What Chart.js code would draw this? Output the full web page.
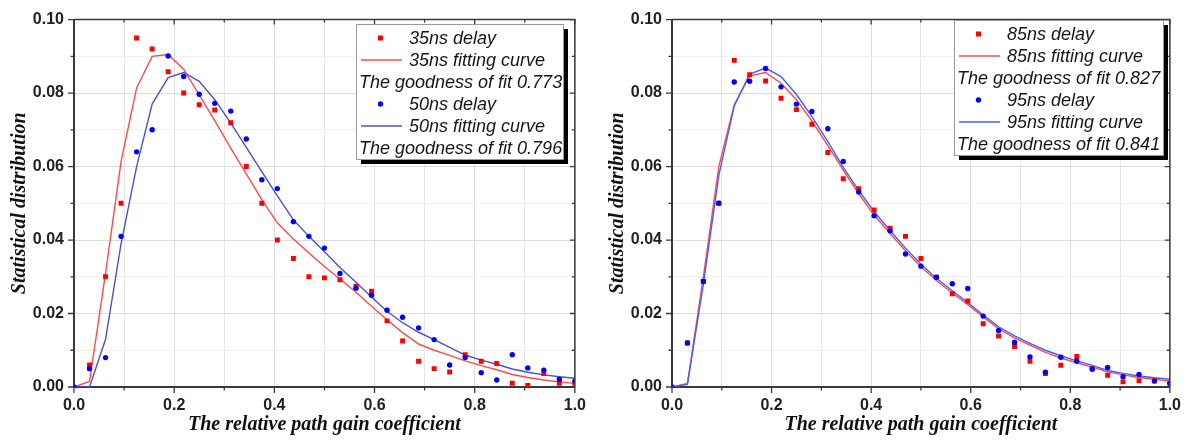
<!DOCTYPE html>
<html>
<head>
<meta charset="utf-8">
<script src="https://cdn.jsdelivr.net/npm/chart.js@4"></script>
<style>
  body { margin: 0; background: #fff; }
  #wrap { display: flex; width: 1190px; height: 441px; }
  canvas { display: block; }
</style>
</head>
<body>
<div id="wrap">
  <canvas id="chart-left" width="595" height="441"></canvas>
  <canvas id="chart-right" width="595" height="441"></canvas>
</div>
<script>
// relative path gain coefficient, sampled in 1/32 steps
const gain = [0, 0.031, 0.063, 0.094, 0.125, 0.156, 0.188, 0.219, 0.25, 0.281, 0.313,
  0.344, 0.375, 0.406, 0.438, 0.469, 0.5, 0.531, 0.563, 0.594, 0.625, 0.656, 0.688,
  0.719, 0.75, 0.781, 0.813, 0.844, 0.875, 0.906, 0.938, 0.969, 1.0];

// measured distributions (null = no sample)
const delay35 = [null, 0.006, 0.030, 0.050, 0.095, 0.092, 0.0858, 0.080, 0.0768, 0.0754, 0.0719,
  0.060, 0.050, 0.040, 0.035, 0.030, 0.0297, 0.0292, 0.0274, 0.0261, 0.018, 0.0125, 0.007,
  0.005, 0.0041, 0.0088, 0.007, 0.0064, 0.001, 0.0004, 0.0037, 0.001, 0.001];
const delay50 = [0, 0.005, 0.008, 0.041, 0.064, 0.070, 0.0901, 0.0845, 0.0797, 0.0772, 0.0751,
  0.0675, 0.0564, 0.054, 0.045, 0.041, 0.0378, 0.0309, 0.0269, 0.025, 0.0209, 0.019, 0.0161,
  0.0129, 0.006, 0.008, 0.0039, 0.0019, 0.0088, 0.0052, 0.0046, 0.0021, 0.0016];
const delay85 = [null, 0.012, 0.0287, 0.050, 0.0889, 0.085, 0.0833, 0.0786, 0.0755, 0.0715, 0.0638,
  0.0567, 0.054, 0.0482, 0.0432, 0.041, 0.035, 0.0299, 0.0254, 0.0234, 0.0172, 0.0139, 0.011,
  0.007, 0.0037, 0.0059, 0.0083, 0.0049, 0.0032, 0.0014, 0.0017, 0.0017, 0.001];
const delay95 = [0, 0.012, 0.0287, 0.050, 0.083, 0.0832, 0.0867, 0.0817, 0.077, 0.075, 0.0703,
  0.0614, 0.0531, 0.0466, 0.0425, 0.0362, 0.0329, 0.0299, 0.0281, 0.0268, 0.0193, 0.0154, 0.0122,
  0.0082, 0.004, 0.0081, 0.007, 0.0049, 0.0053, 0.0028, 0.0034, 0.0016, 0.001];

// fitting curves
const fit35 = [0, 0.0015, 0.031, 0.0614, 0.0814, 0.090, 0.0905, 0.0865, 0.0795, 0.0725, 0.065,
  0.058, 0.051, 0.0447, 0.0403, 0.0365, 0.0328, 0.0294, 0.0258, 0.022, 0.0183, 0.0148, 0.0117,
  0.0100, 0.0086, 0.0071, 0.0058, 0.0047, 0.0034, 0.0026, 0.0019, 0.0014, 0.001];
const fit50 = [0, 0, 0.013, 0.039, 0.060, 0.077, 0.0842, 0.0856, 0.0832, 0.0782, 0.0718,
  0.0652, 0.0586, 0.052, 0.0455, 0.041, 0.0368, 0.0325, 0.0285, 0.0245, 0.0206, 0.0175, 0.0149,
  0.0129, 0.0108, 0.0087, 0.0073, 0.0062, 0.0049, 0.0040, 0.0033, 0.0028, 0.0024];
const fit85 = [0, 0.001, 0.030, 0.060, 0.0768, 0.0847, 0.0856, 0.0827, 0.0782, 0.0724, 0.0657,
  0.059, 0.0526, 0.0468, 0.0418, 0.0371, 0.0327, 0.029, 0.0256, 0.0225, 0.0191, 0.0159, 0.0134,
  0.0114, 0.0094, 0.0079, 0.0066, 0.0054, 0.0041, 0.0033, 0.0026, 0.0021, 0.0016];
const fit95 = [0, 0.0007, 0.028, 0.0576, 0.0765, 0.0852, 0.0868, 0.0845, 0.0796, 0.0736, 0.0668,
  0.0598, 0.0535, 0.0477, 0.0426, 0.0378, 0.0334, 0.0296, 0.0262, 0.023, 0.0196, 0.0164, 0.0139,
  0.0119, 0.0100, 0.0085, 0.0071, 0.0059, 0.0045, 0.0037, 0.0030, 0.0025, 0.0021];

const legendLeft = ["35ns delay", "35ns fitting curve", "The goodness of fit 0.773",
  "50ns delay", "50ns fitting curve", "The goodness of fit 0.796"];
const legendRight = ["85ns delay", "85ns fitting curve", "The goodness of fit 0.827",
  "95ns delay", "95ns fitting curve", "The goodness of fit 0.841"];

const xTitle = "The relative path gain coefficient";
const yTitle = "Statistical distribution";

Chart.defaults.font.family = "'Liberation Sans', Arial, sans-serif";

const toPoints = (values) =>
  gain.map((x, i) => ({ x: x, y: values[i] })).filter((p) => p.y !== null);

const pointSet = (values, color, style, order) => ({
  data: toPoints(values),
  showLine: false,
  pointStyle: style,
  pointRadius: style === "rect" ? 3.5 : 2.7,
  backgroundColor: color,
  borderWidth: 0,
  order: order,
});

const lineSet = (values, color, order) => ({
  data: toPoints(values),
  showLine: true,
  borderColor: color,
  borderWidth: 1.4,
  pointRadius: 0,
  tension: 0,
  fill: false,
  order: order,
});

// box frame with mirrored inner ticks on top/right, outer ticks on left/bottom
const frameTicks = {
  id: "frameTicks",
  afterDraw(chart) {
    const { ctx, chartArea: a, scales } = chart;
    const x = scales.x;
    const y = scales.y;
    ctx.save();
    ctx.strokeStyle = "#3a3a3a";
    ctx.lineWidth = 1.5;
    ctx.beginPath();
    ctx.moveTo(a.left, a.top);
    ctx.lineTo(a.right, a.top);
    ctx.lineTo(a.right, a.bottom);
    ctx.stroke();
    ctx.lineWidth = 1.3;
    ctx.beginPath();
    x.ticks.forEach((t, i) => {
      const px = x.getPixelForValue(t.value);
      const major = i % 2 === 0;
      ctx.moveTo(px, a.bottom);
      ctx.lineTo(px, a.bottom + (major ? 6 : 3.5));
      ctx.moveTo(px, a.top);
      ctx.lineTo(px, a.top + (major ? 5 : 3));
    });
    y.ticks.forEach((t, i) => {
      const py = y.getPixelForValue(t.value);
      const major = i % 2 === 0;
      ctx.moveTo(a.left, py);
      ctx.lineTo(a.left - (major ? 6 : 3.5), py);
      ctx.moveTo(a.right, py);
      ctx.lineTo(a.right - (major ? 5 : 3), py);
    });
    ctx.stroke();
    ctx.restore();
  },
};

// boxed legend with shadow, one entry per row
const boxLegend = {
  id: "boxLegend",
  afterDraw(chart, args, opts) {
    const { ctx } = chart;
    const { left, top, width, height, rows } = opts;
    const sets = chart.data.datasets;
    ctx.save();
    ctx.fillStyle = "#000";
    ctx.fillRect(left + 5, top + 5, width, height);
    ctx.fillStyle = "#fff";
    ctx.fillRect(left, top, width, height);
    ctx.strokeStyle = "#9a9a9a";
    ctx.lineWidth = 1;
    ctx.strokeRect(left + 0.5, top + 0.5, width, height);
    ctx.font = "italic 18px 'Liberation Sans', Arial, sans-serif";
    ctx.textBaseline = "middle";
    rows.forEach((row, i) => {
      const cy = top + 14 + i * 22;
      const ds = row.ds === undefined ? null : sets[row.ds];
      if (row.kind === "point") {
        ctx.fillStyle = ds.backgroundColor;
        if (ds.pointStyle === "rect") {
          ctx.fillRect(left + 22, cy - 2.5, 5, 5);
        } else {
          ctx.beginPath();
          ctx.arc(left + 24.5, cy, 2.7, 0, Math.PI * 2);
          ctx.fill();
        }
      } else if (row.kind === "line") {
        ctx.strokeStyle = ds.borderColor;
        ctx.lineWidth = 1.4;
        ctx.beginPath();
        ctx.moveTo(left + 5, cy);
        ctx.lineTo(left + 46, cy);
        ctx.stroke();
      }
      ctx.fillStyle = "#151515";
      ctx.fillText(row.text, left + (row.kind === "text" ? 3 : 53), cy + 1);
    });
    ctx.restore();
  },
};

const legendRows = (labels) => [
  { kind: "point", ds: 1, text: labels[0] },
  { kind: "line", ds: 3, text: labels[1] },
  { kind: "text", text: labels[2] },
  { kind: "point", ds: 0, text: labels[3] },
  { kind: "line", ds: 2, text: labels[4] },
  { kind: "text", text: labels[5] },
];

const buildChart = (id, series, cfg) => {
  const ctx = document.getElementById(id);
  const config = {
    type: "scatter",
    data: {
      datasets: [
        pointSet(series.bluePts, "#0000ff", "circle", 0),
        pointSet(series.redPts, "#ff0000", "rect", 1),
        lineSet(series.blueFit, cfg.blueLine, 2),
        lineSet(series.redFit, "#ff4a4a", 3),
      ],
    },
    options: {
      responsive: false,
      animation: false,
      devicePixelRatio: 1,
      layout: { padding: { top: 16, right: cfg.padRight, left: 0, bottom: 0 } },
      plugins: {
        legend: { display: false },
        tooltip: { enabled: false },
        boxLegend: cfg.legend,
      },
      scales: {
        x: {
          type: "linear",
          min: 0,
          max: 1,
          afterFit: (scale) => {
            scale.height = 54;
          },
          ticks: {
            stepSize: 0.1,
            padding: 9,
            color: "#222",
            font: { size: 16, weight: "bold" },
            maxRotation: 0,
            autoSkip: false,
            callback: (v, i) => (i % 2 === 0 ? Number(v).toFixed(1) : ""),
          },
          grid: {
            drawTicks: false,
            color: (c) => (c.index % 2 === 0 ? "#dddddd" : "#e6e6e6"),
            lineWidth: 1,
          },
          border: { color: "#3a3a3a", width: 2 },
          title: {
            display: true,
            text: xTitle,
            color: "#111",
            font: { family: "'Liberation Serif', 'Times New Roman', serif", size: 20, weight: "bold", style: "italic" },
            padding: { top: 0, bottom: 4 },
          },
        },
        y: {
          type: "linear",
          min: 0,
          max: 0.1,
          afterFit: (scale) => {
            scale.width = cfg.yWidth;
          },
          ticks: {
            stepSize: 0.01,
            padding: 10,
            color: "#222",
            font: { size: 16, weight: "bold" },
            autoSkip: false,
            callback: (v, i) => (i % 2 === 0 ? Number(v).toFixed(2) : ""),
          },
          grid: {
            drawTicks: false,
            color: (c) => (c.index % 2 === 0 ? "#dddddd" : "#f0f0f0"),
            lineWidth: 1,
          },
          border: { color: "#3a3a3a", width: 2 },
          title: {
            display: true,
            text: yTitle,
            color: "#111",
            font: { family: "'Liberation Serif', 'Times New Roman', serif", size: 20, weight: "bold", style: "italic" },
            padding: { top: cfg.yTitlePad, bottom: 0 },
          },
        },
      },
    },
    plugins: [frameTicks, boxLegend],
  };
  new Chart(ctx, config);
};

window.addEventListener("load", () => {
  buildChart(
    "chart-left",
    { redPts: delay35, bluePts: delay50, redFit: fit35, blueFit: fit50 },
    {
      padRight: 18,
      yWidth: 74,
      yTitlePad: 8,
      blueLine: "#5050c8",
      legend: { left: 356, top: 24, width: 207, height: 135, rows: legendRows(legendLeft) },
    }
  );
  buildChart(
    "chart-right",
    { redPts: delay85, bluePts: delay95, redFit: fit85, blueFit: fit95 },
    {
      padRight: 14,
      yWidth: 77,
      yTitlePad: 11,
      blueLine: "#4060ff",
      legend: { left: 359, top: 20, width: 209, height: 135, rows: legendRows(legendRight) },
    }
  );
});
</script>
</body>
</html>
